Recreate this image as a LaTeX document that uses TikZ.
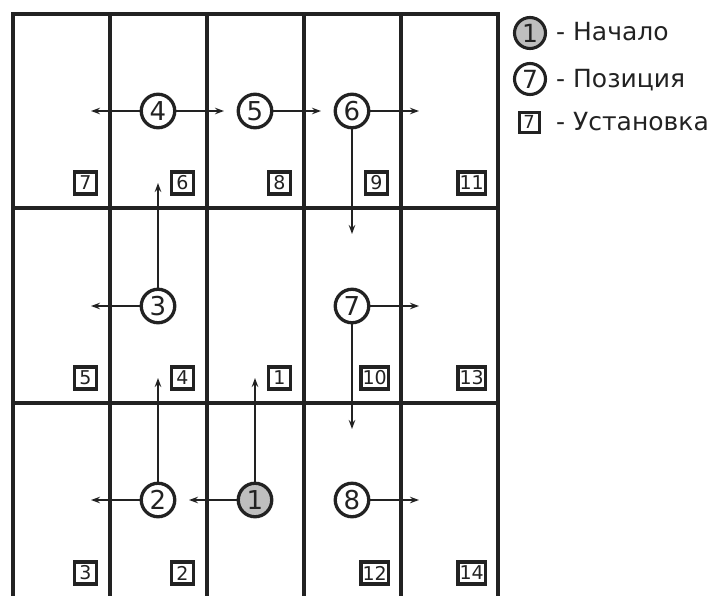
\documentclass[tikz,border=0pt]{standalone}
\usepackage{fontspec}
\setmainfont{DejaVu Sans}
\usetikzlibrary{arrows.meta}
\definecolor{ink}{HTML}{222222}
\definecolor{startfill}{HTML}{BEBEBE}
\begin{document}
\begin{tikzpicture}[x=1pt,y=-1pt,
  gridline/.style={draw=ink,line width=4pt},
  posnode/.style={circle,draw=ink,line width=3.3pt,fill=white,minimum size=33.5pt,inner sep=0pt,font=\fontsize{26}{26}\selectfont,text=ink},
  startnode/.style={posnode,fill=startfill},
  inst/.style={rectangle,draw=ink,line width=3.2pt,fill=white,minimum height=22pt,minimum width=22pt,inner xsep=1.6pt,inner ysep=1pt,font=\fontsize{19}{19}\selectfont,text=ink,anchor=east},
  mv/.style={draw=ink,line width=2pt,-{Stealth[length=9pt,width=6.5pt]}},
  lposnode/.style={circle,draw=ink,line width=3.1pt,minimum size=31pt,inner sep=0pt,font=\fontsize{25}{25}\selectfont,text=ink},
  linst/.style={rectangle,draw=ink,line width=3pt,minimum height=20pt,minimum width=20pt,inner sep=0pt,font=\fontsize{18}{18}\selectfont,text=ink},
  ltext/.style={anchor=base west,font=\fontsize{25}{25}\selectfont,text=ink,inner sep=0pt}
]
\useasboundingbox (0,0) rectangle (728,595);
% grid
\draw[gridline] (11,14) -- (500,14);
\draw[gridline] (13,208) -- (498,208);
\draw[gridline] (13,403) -- (498,403);
\foreach \x in {13,110,207,304,401,498} \draw[gridline] (\x,12) -- (\x,597);
% installation squares
\node[inst] (s7) at (98,183) {7};
\node[inst] (s6) at (195,183) {6};
\node[inst] (s8) at (292,183) {8};
\node[inst] (s9) at (389,183) {9};
\node[inst] (s11) at (487,183) {11};
\node[inst] (s5) at (98,378) {5};
\node[inst] (s4) at (195,378) {4};
\node[inst] (s1) at (292,378) {1};
\node[inst] (s10) at (390,378) {10};
\node[inst] (s13) at (487,378) {13};
\node[inst] (s3) at (98,573) {3};
\node[inst] (s2) at (195,573) {2};
\node[inst] (s12) at (390,573) {12};
\node[inst] (s14) at (487,573) {14};
% arrow end points
\coordinate (e4l) at (91,111);
\coordinate (e4r) at (224,111);
\coordinate (e5r) at (321,111);
\coordinate (e6r) at (419,111);
\coordinate (e6d) at (352,234);
\coordinate (e3u) at (158,183);
\coordinate (e3l) at (91,306);
\coordinate (e7r) at (419,306);
\coordinate (e7d) at (352,429);
\coordinate (e2u) at (158,378);
\coordinate (e2l) at (91,500);
\coordinate (e1u) at (255,378);
\coordinate (e1l) at (189,500);
\coordinate (e8r) at (419,500);
% positions
\node[posnode] (p4) at (158,111) {4};
\node[posnode] (p5) at (255,111) {5};
\node[posnode] (p6) at (352,111) {6};
\node[posnode] (p3) at (158,306) {3};
\node[posnode] (p7) at (352,306) {7};
\node[posnode] (p2) at (158,500) {2};
\node[startnode] (p1) at (255,500) {1};
\node[posnode] (p8) at (352,500) {8};
% moves
\draw[mv] (p4) -- (e4l);
\draw[mv] (p4) -- (e4r);
\draw[mv] (p5) -- (e5r);
\draw[mv] (p6) -- (e6r);
\draw[mv] (p6) -- (e6d);
\draw[mv] (p3) -- (e3u);
\draw[mv] (p3) -- (e3l);
\draw[mv] (p7) -- (e7r);
\draw[mv] (p7) -- (e7d);
\draw[mv] (p2) -- (e2u);
\draw[mv] (p2) -- (e2l);
\draw[mv] (p1) -- (e1u);
\draw[mv] (p1) -- (e1l);
\draw[mv] (p8) -- (e8r);
% legend
\node[lposnode,fill=startfill] (l1) at (530,33) {1};
\node[lposnode] (l7) at (530,79) {7};
\node[linst] (l7s) at (529,122) {7};
\node[ltext] (t1) at (556,40) {- Начало};
\node[ltext] (t2) at (556,87) {- Позиция};
\node[ltext] (t3) at (556,130) {- Установка};
\end{tikzpicture}
\end{document}
